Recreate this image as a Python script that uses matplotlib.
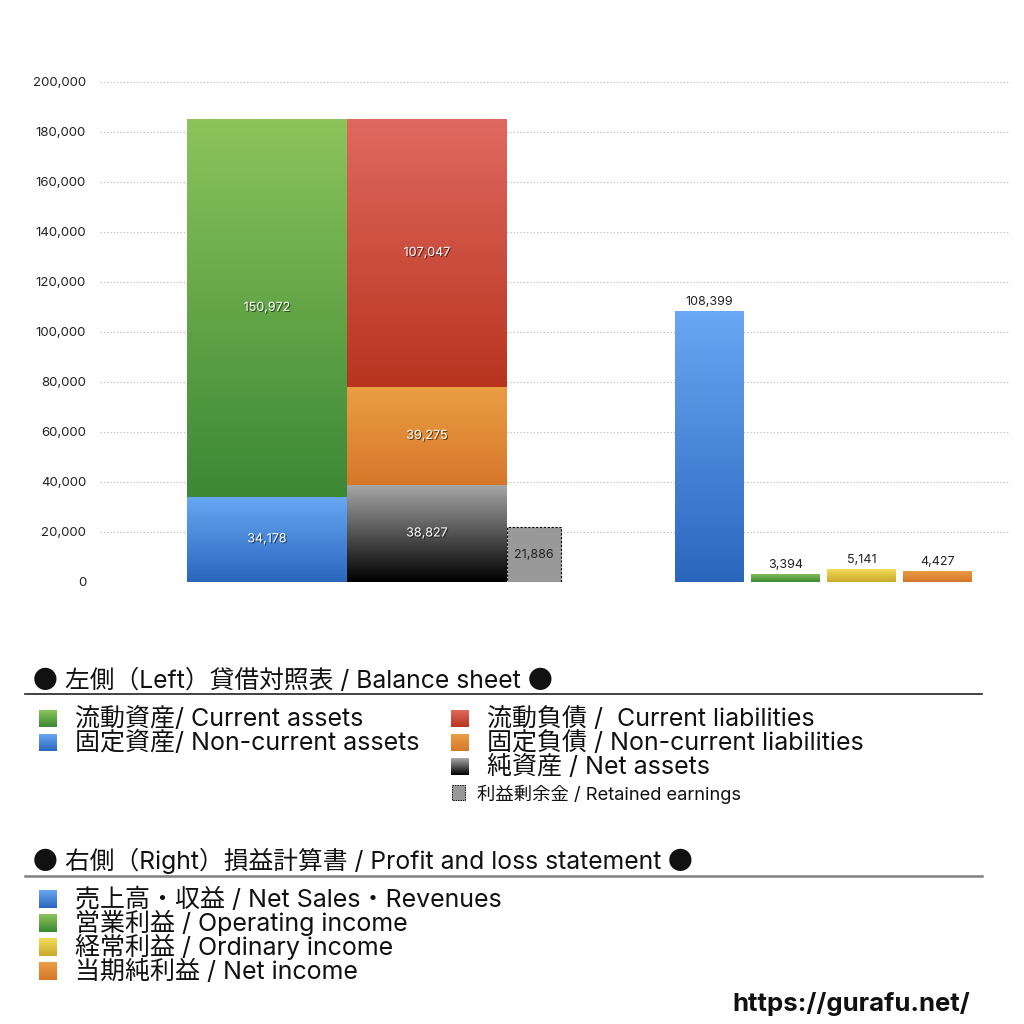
import matplotlib
matplotlib.use("Agg")
import matplotlib.pyplot as plt
import matplotlib.patheffects as pe
from matplotlib.patches import Rectangle
from matplotlib.colors import LinearSegmentedColormap
import numpy as np

LATIN = ['Inter', 'Noto Sans CJK JP', 'DejaVu Sans']
CJK = ['Noto Sans CJK JP', 'DejaVu Sans']
plt.rcParams['font.family'] = LATIN

# ---------------- data ----------------
assets_labels = ["流動資産/ Current assets", "固定資産/ Non-current assets"]
current_assets = 150972
noncurrent_assets = 34178

liab_labels = ["流動負債 /  Current liabilities", "固定負債 / Non-current liabilities", "純資産 / Net assets"]
current_liabilities = 107047
noncurrent_liabilities = 39275
net_assets = 38827

retained_label = "利益剰余金 / Retained earnings"
retained_earnings = 21886

pl_labels = ["売上高・収益 / Net Sales・Revenues", "営業利益 / Operating income",
             "経常利益 / Ordinary income", "当期純利益 / Net income"]
pl_values = [108399, 3394, 5141, 4427]

yticks = [0, 20000, 40000, 60000, 80000, 100000, 120000, 140000, 160000, 180000, 200000]

title_left = "左側（Left）貸借対照表 / Balance sheet"
title_right = "右側（Right）損益計算書 / Profit and loss statement"
bullet = "●"
url = "https://gurafu.net/"

# ---------------- styles ----------------
G_GREEN = ("#8CC45B", "#3B8835")
G_BLUE = ("#68A8F4", "#2B66BD")
G_RED = ("#E0695F", "#B8341E")
G_ORANGE = ("#EB9E44", "#D6772A")
G_BLACK = ("#A8A8A8", "#000000")
G_YELLOW = ("#F3DD57", "#C9A82E")
RETAINED_COLOR = "#999999"

# layout (x positions in axis units; 1 unit = 100 px)
x_assets, x_liab, x_ret = 1.67, 3.27, 4.34
w_bs, w_ret = 1.6, 0.54
x_pl = [6.095, 6.855, 7.615, 8.375]
w_pl = 0.69

fig = plt.figure(figsize=(10.24, 10.24), dpi=100)
ax = fig.add_axes([100 / 1024, 442 / 1024, 910 / 1024, 500 / 1024])


def grad_fill(bar, colors):
    bar.set_facecolor("none")
    bar.set_edgecolor("none")
    x0, y0 = bar.get_x(), bar.get_y()
    x1, y1 = x0 + bar.get_width(), y0 + bar.get_height()
    cmap = LinearSegmentedColormap.from_list("g", [colors[1], colors[0]])
    grad = np.linspace(0, 1, 256).reshape(-1, 1)
    im = ax.imshow(grad, extent=[x0, x1, y0, y1], origin="lower", aspect="auto",
                   cmap=cmap, interpolation="bilinear", zorder=2)
    im.set_clip_path(bar)


shadow = [pe.withSimplePatchShadow(offset=(0.8, -0.8), shadow_rgbFace="black", alpha=0.55)]


def inner_label(bar, value, color="white", effects=shadow):
    cx = bar.get_x() + bar.get_width() / 2
    cy = bar.get_y() + bar.get_height() / 2
    ax.text(cx, cy, f"{value:,}", ha="center", va="center", fontsize=9,
            color=color, path_effects=effects, zorder=5)


# balance sheet: assets
b_nca = ax.bar(x_assets, noncurrent_assets, width=w_bs, zorder=2)[0]
b_ca = ax.bar(x_assets, current_assets, width=w_bs, bottom=noncurrent_assets, zorder=2)[0]
grad_fill(b_nca, G_BLUE)
grad_fill(b_ca, G_GREEN)
inner_label(b_nca, noncurrent_assets)
inner_label(b_ca, current_assets)

# liabilities & net assets
b_na = ax.bar(x_liab, net_assets, width=w_bs, zorder=2)[0]
b_ncl = ax.bar(x_liab, noncurrent_liabilities, width=w_bs, bottom=net_assets, zorder=2)[0]
b_cl = ax.bar(x_liab, current_liabilities, width=w_bs,
              bottom=net_assets + noncurrent_liabilities, zorder=2)[0]
grad_fill(b_na, G_BLACK)
grad_fill(b_ncl, G_ORANGE)
grad_fill(b_cl, G_RED)
inner_label(b_na, net_assets)
inner_label(b_ncl, noncurrent_liabilities)
inner_label(b_cl, current_liabilities)

# retained earnings
b_re = ax.bar(x_ret, retained_earnings, width=w_ret, color=RETAINED_COLOR,
              edgecolor="black", linestyle=(0, (2, 1.5)), linewidth=0.8, zorder=3)[0]
inner_label(b_re, retained_earnings, color="#222222", effects=None)

# profit & loss
pl_grads = [G_BLUE, G_GREEN, G_YELLOW, G_ORANGE]
pl_bars = ax.bar(x_pl, pl_values, width=w_pl, zorder=2)
for b, g, v in zip(pl_bars, pl_grads, pl_values):
    grad_fill(b, g)
    ax.text(b.get_x() + b.get_width() / 2, v + 1200, f"{v:,}", ha="center", va="bottom",
            fontsize=9, color="#222222", zorder=5)

ax.set_xlim(0, 9.1)
ax.set_ylim(0, 200000)
ax.set_yticks(yticks)
ax.set_yticklabels([f"{t:,}" for t in yticks], fontsize=9.5, color="#222222")
ax.tick_params(axis="y", length=0, pad=10)
ax.set_xticks([])
for s in ax.spines.values():
    s.set_visible(False)
ax.yaxis.grid(True, linestyle=(0, (1, 2)), color="#b5b5b5", linewidth=0.8, zorder=0)
ax.set_axisbelow(True)

# ---------------- legend overlay (pixel coordinates) ----------------
lax = fig.add_axes([0, 0, 1, 1], zorder=10)
lax.set_xlim(0, 1024)
lax.set_ylim(1024, 0)
lax.axis("off")
lax.patch.set_alpha(0)
renderer = fig.canvas.get_renderer()


def swatch(x, y, w, h, colors):
    cmap = LinearSegmentedColormap.from_list("s", [colors[0], colors[1]])
    grad = np.linspace(0, 1, 64).reshape(-1, 1)
    lax.imshow(grad, extent=[x, x + w, y + h, y], origin="upper", aspect="auto",
               cmap=cmap, interpolation="bilinear")


def seq_text(x, y, pieces, fs):
    for s, fam in pieces:
        t = lax.text(x, y, s, fontsize=fs, family=fam, va="baseline", ha="left", color="#111111")
        x += t.get_window_extent(renderer).width


FS = 18
seq_text(33, 688, [(bullet, CJK), (" " + title_left + " ", LATIN), (bullet, CJK)], 17.8)
lax.plot([25, 982], [694, 694], color="#222222", linewidth=1.2)

left_grads = [G_GREEN, G_BLUE]
for i, (lab, g) in enumerate(zip(assets_labels, left_grads)):
    y = 718 + 24 * i
    swatch(39, y - 8, 18, 17, g)
    lax.text(75, y + 8, lab, fontsize=FS, va="baseline", ha="left", color="#111111")

right_grads = [G_RED, G_ORANGE, G_BLACK]
for i, (lab, g) in enumerate(zip(liab_labels, right_grads)):
    y = 718 + 24 * i
    swatch(451, y - 8, 18, 17, g)
    lax.text(487, y + 8, lab, fontsize=FS, va="baseline", ha="left", color="#111111")

lax.add_patch(Rectangle((452, 785), 13, 15, facecolor=RETAINED_COLOR, edgecolor="black",
                        linestyle=(0, (1.5, 1)), linewidth=0.7))
lax.text(477, 800, retained_label, fontsize=13.2, va="baseline", ha="left", color="#111111")

seq_text(33, 869, [(bullet, CJK), (" " + title_right + " ", LATIN), (bullet, CJK)], 17.8)
lax.plot([25, 982], [876, 876], color="#808080", linewidth=1.8)

for i, (lab, g) in enumerate(zip(pl_labels, pl_grads)):
    y = 899 + 24 * i
    swatch(39, y - 9, 18, 18, g)
    lax.text(75, y + 8, lab, fontsize=FS, va="baseline", ha="left", color="#111111")

lax.text(970, 1011, url, fontsize=18.5, fontweight="bold", va="baseline", ha="right",
         color="#111111")

fig.savefig("out.png", dpi=100, facecolor="white")
